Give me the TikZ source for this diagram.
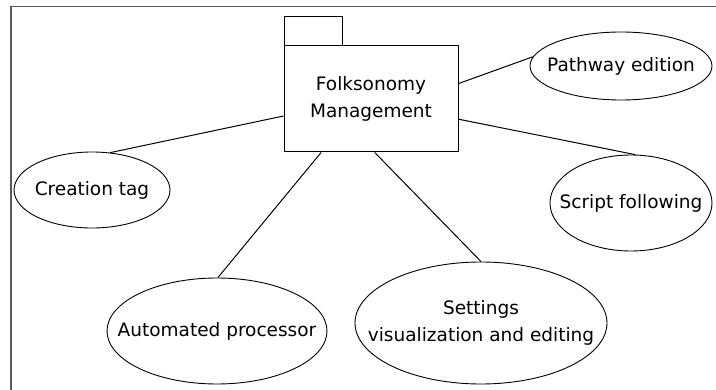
\documentclass[tikz,border=0pt]{standalone}
\usepackage{fontspec}
\setmainfont{DejaVu Sans}
\usetikzlibrary{shapes.geometric}
\begin{document}
\begin{tikzpicture}[x=1pt,y=-1pt,
  lbl/.style={font=\fontsize{18.5}{27}\selectfont, align=center, inner sep=0pt},
  uc/.style={ellipse, draw=black, line width=0.9pt, inner sep=0pt},
  pkgbox/.style={rectangle, draw=black, line width=1pt, inner sep=0pt},
  conn/.style={draw=black, line width=1pt},
  frame/.style={draw=black!65, line width=1.6pt}]
\useasboundingbox (0,0) rectangle (716,390);
\fill[white] (0,0) rectangle (716,390);
\coordinate (f1) at (11,390);
\coordinate (f2) at (11,6.5);
\coordinate (f3) at (716,6.5);
\draw[frame] (f1) -- (f2) -- (f3);
% package
\node[pkgbox, minimum width=58pt, minimum height=29pt, anchor=south west] (tab) at (284,46) {};
\node[pkgbox, minimum width=174pt, minimum height=106pt] (pkg) at (371,99) {};
\node[lbl] (pkgt) at (pkg.center) {Folksonomy\\Management};
% use cases
\node[uc, minimum width=182pt, minimum height=68pt] (pe) at (621,66) {};
\node[lbl] (pet) at (pe.center) {Pathway edition};
\node[uc, minimum width=156pt, minimum height=76pt] (ct) at (92,190) {};
\node[lbl] (ctt) at (ct.center) {Creation tag};
\node[uc, minimum width=162pt, minimum height=96pt] (sf) at (631,203) {};
\node[lbl] (sft) at (sf.center) {Script following};
\node[uc, minimum width=220pt, minimum height=106pt] (ap) at (217,331) {};
\node[lbl] (apt) at (ap.center) {Automated processor};
\node[uc, minimum width=252pt, minimum height=122pt] (sv) at (481,323) {};
\node[lbl] (svt) at (sv.center) {Settings\\visualization and editing};
% connectors
\draw[conn] (pkg.191.7) -- (ct.64.6);
\draw[conn] (pkg.10.4) -- (pe.174);
\draw[conn] (pkg.347.7) -- (sf.85);
\draw[conn] (pkg.227.8) -- (ap.89);
\draw[conn] (pkg.274.3) -- (sv.90);
\end{tikzpicture}
\end{document}
